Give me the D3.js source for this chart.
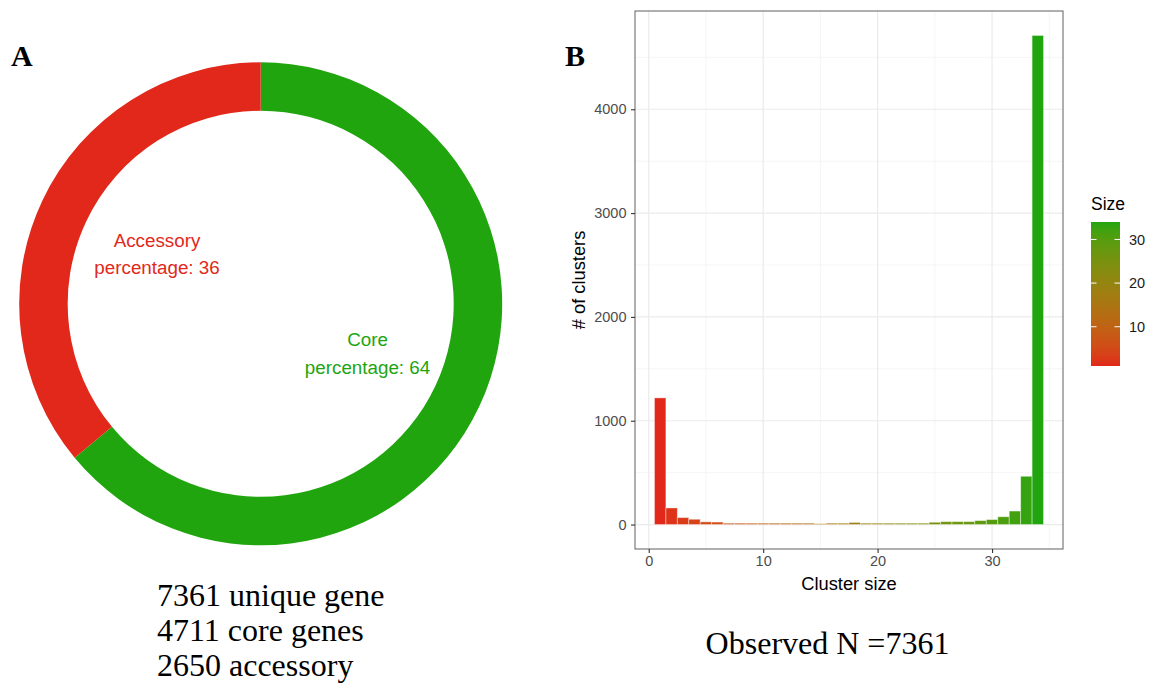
<!DOCTYPE html>
<html>
<head>
<meta charset="utf-8">
<script src="https://cdn.jsdelivr.net/npm/d3@7"></script>
<style>
  html, body { margin: 0; padding: 0; background: #fff; }
  svg { display: block; }
</style>
</head>
<body>
<svg id="chart" width="1149" height="684"></svg>
<script>
// ---- data ----
const pieLabels = ["Core", "Accessory"];
const pieValues = [4711, 2650];
const pieColors = ["#21a50f", "#e1281a"];

const clusterSizes = d3.range(1, 35);
const clusterCounts = [
  1220, 160, 67, 51, 26, 24, 13, 13, 13, 13,
  13, 13, 13, 13, 8, 13, 13, 20, 13, 13,
  13, 13, 13, 13, 22, 28, 28, 28, 38, 48,
  75, 130, 465, 4711
];
const xTicks = [0, 10, 20, 30];
const yTicks = [0, 1000, 2000, 3000, 4000];
const legendTicks = [10, 20, 30];
const summaryLines = ["7361 unique gene", "4711 core genes", "2650 accessory"];

const svg = d3.select("#chart");
const sans = "'Liberation Sans', Arial, sans-serif";
const serif = "'Liberation Serif', 'Times New Roman', serif";

// ---- panel A: donut ----
const cx = 260.7, cy = 303.8;
const pie = d3.pie().sort(null).value(d => d)(pieValues);
const arc = d3.arc().innerRadius(193).outerRadius(241.5);
const donut = svg.append("g").attr("transform", `translate(${cx},${cy})`);
donut.selectAll("path").data(pie).join("path")
  .attr("d", arc)
  .attr("fill", (d, i) => pieColors[i]);

svg.append("text").attr("x", 11).attr("y", 66)
  .attr("font-family", serif).attr("font-weight", "bold").attr("font-size", 30)
  .text("A");

const total = d3.sum(pieValues);
const pct = pieValues.map(v => Math.round(v / total * 100));

function twoLine(x, y1, y2, l1, l2, color) {
  const t = svg.append("g").attr("font-family", sans).attr("font-size", 18.8)
    .attr("fill", color).attr("text-anchor", "middle");
  t.append("text").attr("x", x).attr("y", y1).text(l1);
  t.append("text").attr("x", x).attr("y", y2).text(l2);
}
twoLine(157, 247, 273.5, pieLabels[1], "percentage: " + pct[1], pieColors[1]);
twoLine(367.5, 346, 373.5, pieLabels[0], "percentage: " + pct[0], pieColors[0]);

svg.append("g").attr("font-family", serif).attr("font-size", 32).attr("fill", "#000")
  .selectAll("text").data(summaryLines).join("text")
  .attr("x", 157).attr("y", (d, i) => 605.7 + i * 35.2)
  .text(d => d);

// ---- panel B: histogram ----
svg.append("text").attr("x", 565).attr("y", 66)
  .attr("font-family", serif).attr("font-weight", "bold").attr("font-size", 30)
  .text("B");

const L = 635, R = 1063, T = 11, B = 549;
const x = d3.scaleLinear().domain([-1.2, 36.2]).range([L, R]);
const yMax = d3.max(clusterCounts);
const yPad = yMax * 0.05;
const y = d3.scaleLinear().domain([-yPad, yMax + yPad]).range([B, T]);
const color = d3.scaleLinear().domain([1, 34]).range([pieColors[1], pieColors[0]])
  .interpolate(d3.interpolateLab);

const grid = svg.append("g");
// minor grid
[5, 15, 25, 35].forEach(v => grid.append("line")
  .attr("x1", x(v)).attr("x2", x(v)).attr("y1", T).attr("y2", B)
  .attr("stroke", "#f0f0f0").attr("stroke-width", 0.7));
[500, 1500, 2500, 3500, 4500].forEach(v => grid.append("line")
  .attr("x1", L).attr("x2", R).attr("y1", y(v)).attr("y2", y(v))
  .attr("stroke", "#f0f0f0").attr("stroke-width", 0.7));
// major grid
xTicks.forEach(v => grid.append("line")
  .attr("x1", x(v)).attr("x2", x(v)).attr("y1", T).attr("y2", B)
  .attr("stroke", "#ebebeb").attr("stroke-width", 1.2));
yTicks.forEach(v => grid.append("line")
  .attr("x1", L).attr("x2", R).attr("y1", y(v)).attr("y2", y(v))
  .attr("stroke", "#ebebeb").attr("stroke-width", 1.2));

// bars
svg.append("g").selectAll("rect").data(clusterSizes).join("rect")
  .attr("x", d => x(d - 0.5))
  .attr("width", d => x(d + 0.5) - x(d - 0.5))
  .attr("y", (d, i) => y(clusterCounts[i]))
  .attr("height", (d, i) => y(0) - y(clusterCounts[i]))
  .attr("fill", d => color(d))
  .attr("stroke", "#ffffff").attr("stroke-opacity", 0.45).attr("stroke-width", 0.9);

// panel border
svg.append("rect").attr("x", L).attr("y", T).attr("width", R - L).attr("height", B - T)
  .attr("fill", "none").attr("stroke", "#6e6e6e").attr("stroke-width", 1.1);

// axes
const xAxis = svg.append("g").attr("transform", `translate(0,${B})`)
  .call(d3.axisBottom(x).tickValues(xTicks).tickSize(4).tickPadding(3));
const yAxis = svg.append("g").attr("transform", `translate(${L},0)`)
  .call(d3.axisLeft(y).tickValues(yTicks).tickSize(4).tickPadding(4.5).tickFormat(d3.format("d")));
[xAxis, yAxis].forEach(a => {
  a.select(".domain").remove();
  a.selectAll(".tick line").attr("stroke", "#333").attr("stroke-width", 1.1);
  a.selectAll(".tick text").attr("fill", "#4d4d4d")
    .attr("font-family", sans).attr("font-size", 14.5);
});

svg.append("text").attr("x", (L + R) / 2).attr("y", 590)
  .attr("text-anchor", "middle").attr("font-family", sans).attr("font-size", 18.3)
  .text("Cluster size");
svg.append("text").attr("transform", `translate(585,${(T + B) / 2}) rotate(-90)`)
  .attr("text-anchor", "middle").attr("font-family", sans).attr("font-size", 18.3)
  .text("# of clusters");

svg.append("text").attr("x", 827.5).attr("y", 654.3)
  .attr("text-anchor", "middle").attr("font-family", serif).attr("font-size", 32)
  .text("Observed N =7361");

// colour legend
const lgX = 1091, lgW = 29, lgTop = 222, lgBot = 366;
const ly = d3.scaleLinear().domain([1, 34]).range([lgBot, lgTop]);
const defs = svg.append("defs");
const grad = defs.append("linearGradient").attr("id", "sizeGrad")
  .attr("x1", 0).attr("y1", 1).attr("x2", 0).attr("y2", 0);
d3.range(0, 1.0001, 0.05).forEach(t => grad.append("stop")
  .attr("offset", t).attr("stop-color", color(1 + t * 33)));
svg.append("rect").attr("x", lgX).attr("y", lgTop).attr("width", lgW).attr("height", lgBot - lgTop)
  .attr("fill", "url(#sizeGrad)");
const lg = svg.append("g");
legendTicks.forEach(v => {
  lg.append("line").attr("x1", lgX).attr("x2", lgX + 5.5).attr("y1", ly(v)).attr("y2", ly(v))
    .attr("stroke", "#fff").attr("stroke-width", 1);
  lg.append("line").attr("x1", lgX + lgW - 5.5).attr("x2", lgX + lgW).attr("y1", ly(v)).attr("y2", ly(v))
    .attr("stroke", "#fff").attr("stroke-width", 1);
  lg.append("text").attr("x", 1129).attr("y", ly(v)).attr("dy", "0.35em")
    .attr("font-family", sans).attr("font-size", 14.5).attr("fill", "#1a1a1a").text(v);
});
svg.append("text").attr("x", 1091).attr("y", 210)
  .attr("font-family", sans).attr("font-size", 17.5).text("Size");
</script>
</body>
</html>
